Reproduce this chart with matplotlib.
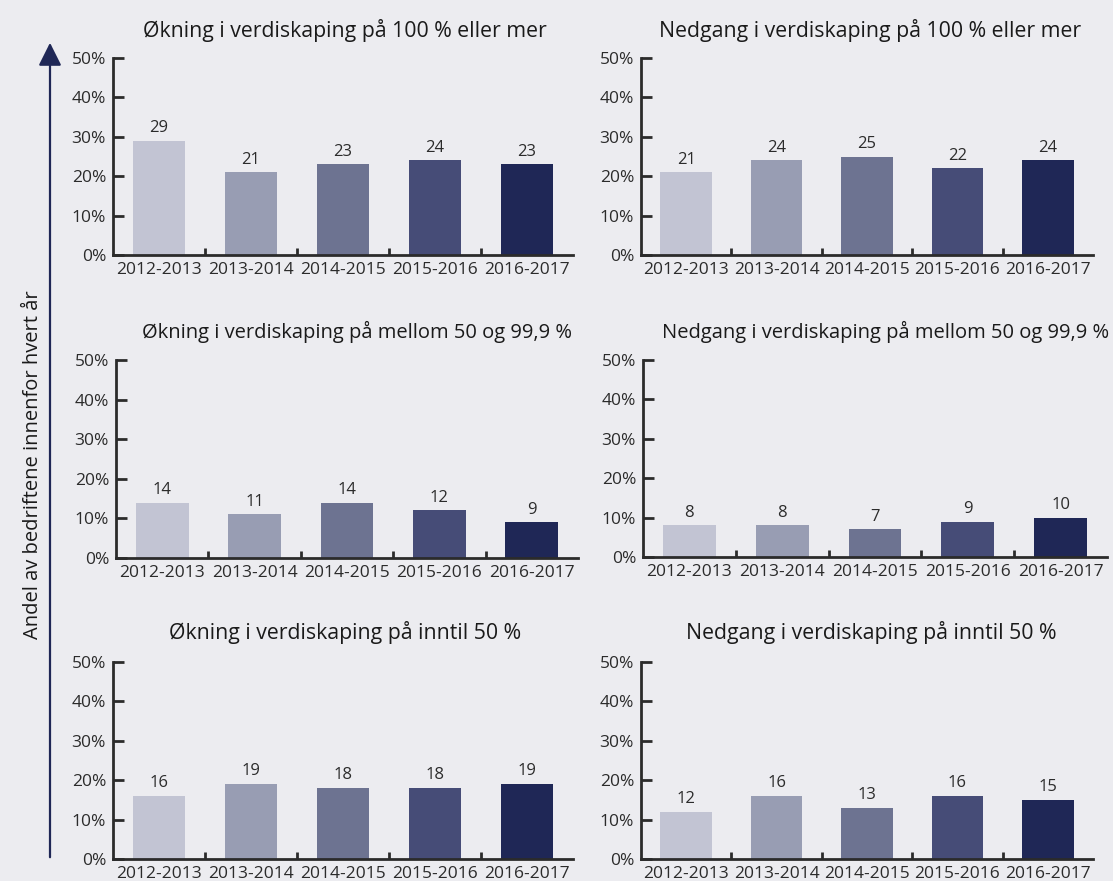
import numpy as np
import matplotlib.pyplot as plt
from matplotlib.patches import FancyArrowPatch

plt.rcParams['font.family'] = ['Open Sans', 'DejaVu Sans']

periods = ['2012-2013', '2013-2014', '2014-2015', '2015-2016', '2016-2017']
titles = ['Økning i verdiskaping på 100 % eller mer',
          'Nedgang i verdiskaping på 100 % eller mer',
          'Økning i verdiskaping på mellom 50 og 99,9 %',
          'Nedgang i verdiskaping på mellom 50 og 99,9 %',
          'Økning i verdiskaping på inntil 50 %',
          'Nedgang i verdiskaping på inntil 50 %']
okning_100 = [29, 21, 23, 24, 23]
nedgang_100 = [21, 24, 25, 22, 24]
okning_50_99 = [14, 11, 14, 12, 9]
nedgang_50_99 = [8, 8, 7, 9, 10]
okning_0_50 = [16, 19, 18, 18, 19]
nedgang_0_50 = [12, 16, 13, 16, 15]
series = [okning_100, nedgang_100, okning_50_99, nedgang_50_99, okning_0_50, nedgang_0_50]
yticks = [0, 10, 20, 30, 40, 50]
ylabel = 'Andel av bedriftene innenfor hvert år'

colors = ['#c2c4d3', '#989db3', '#6d7391', '#464c77', '#1f2756']
bg = '#ececf0'
ink = '#2b2b2b'

W, H = 1113, 881
fig = plt.figure(figsize=(W / 100, H / 100), dpi=100, facecolor=bg)

# panel boxes in pixels: x0, x1, y_top(50%), y_bottom(0%)
boxes = [(113, 573, 58, 255), (641, 1093, 58, 255),
         (116, 578, 360, 558), (643, 1107, 360, 557),
         (113, 573, 662, 859), (641, 1093, 662, 859)]
title_x = [345, 870, 357, 886, 345, 871]
title_y = [30, 30, 332, 332, 632, 632]
title_size = [15.3, 15.3, 14.5, 14.5, 15.3, 15.3]

for i, (vals, box) in enumerate(zip(series, boxes)):
    x0, x1, yt, yb = box
    ax = fig.add_axes([x0 / W, 1 - yb / H, (x1 - x0) / W, (yb - yt) / H])
    ax.set_facecolor('none')
    x = np.arange(len(periods))
    ax.bar(x, vals, width=0.57, color=colors)
    for xi, v in zip(x, vals):
        ax.text(xi, v + 1.2, str(v), ha='center', va='bottom', fontsize=12, color=ink)
    ax.set_xlim(-0.5, len(periods) - 0.5)
    ax.set_ylim(0, 50)
    ax.set_yticks(yticks)
    ax.set_yticklabels([f'{t}%' for t in yticks])
    ax.set_xticks(x)
    ax.set_xticklabels(periods)
    ax.set_xticks(np.arange(0.5, len(periods) - 0.5), minor=True)
    ax.tick_params(axis='x', which='major', length=0, pad=5, labelsize=12.5, colors=ink)
    ax.tick_params(axis='x', which='minor', length=5, width=2, direction='in', color=ink)
    ax.tick_params(axis='y', length=8, width=2, direction='in', pad=5, labelsize=12.5, colors=ink)
    for s in ['top', 'right']:
        ax.spines[s].set_visible(False)
    for s in ['left', 'bottom']:
        ax.spines[s].set_linewidth(2)
        ax.spines[s].set_color(ink)
    fig.text(title_x[i] / W, 1 - title_y[i] / H, titles[i], ha='center', va='center',
             fontsize=title_size[i], color='#1a1a1a')

arrow = FancyArrowPatch((50 / W, 1 - 860 / H), (50 / W, 1 - 40 / H), transform=fig.transFigure,
                        arrowstyle='-|>,head_length=14,head_width=7', color='#1f2756', lw=1.6,
                        mutation_scale=1)
fig.patches.append(arrow)
fig.text(33 / W, 1 - 465 / H, ylabel, rotation=90, ha='center', va='center',
         fontsize=14.5, color='#1a1a1a')

fig.savefig('out.png', dpi=100, facecolor=bg)
